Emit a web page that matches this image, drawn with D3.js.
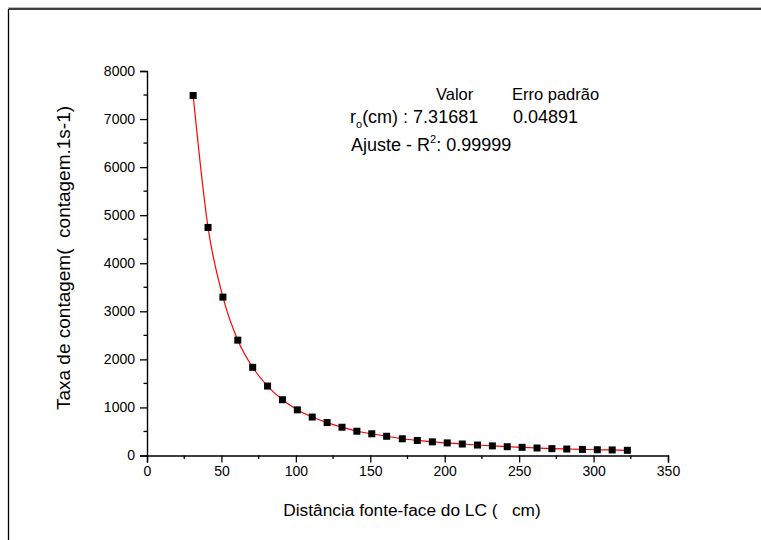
<!DOCTYPE html>
<html>
<head>
<meta charset="utf-8">
<script src="https://cdn.jsdelivr.net/npm/d3@7/dist/d3.min.js"></script>
<style>
  html, body { margin: 0; padding: 0; background: #fff; }
  svg { display: block; font-family: "Liberation Sans", Arial, sans-serif; }
  text { white-space: pre; }
</style>
</head>
<body>
<svg id="chart" width="761" height="540"></svg>
<script>
// ---- data ----
const distances = [31, 41, 51, 61, 71, 81, 91, 101, 111, 121, 131, 141, 151, 161, 171.5,
  181.6, 191.7, 201.7, 211.8, 222, 232, 242, 252, 262, 272, 282, 292.5, 302.5, 312.5, 322.7];
const rates = [7490, 4745, 3295, 2400, 1835, 1445, 1160, 950, 800, 685, 588, 505, 452, 400, 348,
  313, 284, 262, 239, 218, 200, 183, 170, 156, 143, 135, 127, 120, 116, 108];
const xTicks = [0, 50, 100, 150, 200, 250, 300, 350];
const yTicks = [0, 1000, 2000, 3000, 4000, 5000, 6000, 7000, 8000];
const xLabel = "Distância fonte-face do LC (   cm)";
const yLabel = "Taxa de contagem(  contagem.1s-1)";
const fitParam = { name: "r", sub: "o", unit: "(cm) : ", value: "7.31681", err: "0.04891" };
const fitR2 = "0.99999";

const svg = d3.select("#chart");

// frame
svg.append("line").attr("x1", 8).attr("x2", 761).attr("y1", 7.5).attr("y2", 7.5)
  .attr("stroke", "#bbb").attr("stroke-width", 1);
svg.append("line").attr("x1", 8.5).attr("x2", 761).attr("y1", 9).attr("y2", 9)
  .attr("stroke", "#000").attr("stroke-width", 1.3);
svg.append("line").attr("x1", 8.5).attr("x2", 8.5).attr("y1", 9).attr("y2", 540)
  .attr("stroke", "#000").attr("stroke-width", 1.3);

const x = d3.scaleLinear().domain([0, 350]).range([147, 668]);
const y = d3.scaleLinear().domain([0, 8000]).range([455.5, 71]);

// minor ticks
const xMinor = d3.range(25, 350, 50);
const yMinor = d3.range(500, 8000, 1000);

const gx = svg.append("g").attr("transform", `translate(0,${y(0)})`);
gx.call(d3.axisBottom(x).tickValues(xTicks).tickSize(7).tickPadding(4).tickFormat(d3.format("d")));
gx.select(".domain").attr("stroke-width", 1.4);
gx.selectAll(".tick line").attr("stroke-width", 1.3);
gx.selectAll("text").attr("font-size", 14).attr("fill", "#000")
  .attr("font-family", "Liberation Sans, Arial, sans-serif");
gx.selectAll(".minor").data(xMinor).enter().append("line")
  .attr("x1", d => x(d)).attr("x2", d => x(d)).attr("y1", 0).attr("y2", 3.5)
  .attr("stroke", "#000").attr("stroke-width", 1.3);

const gy = svg.append("g").attr("transform", `translate(${x(0)},0)`);
gy.call(d3.axisLeft(y).tickValues(yTicks).tickSize(7).tickPadding(5).tickFormat(d3.format("d")));
gy.select(".domain").attr("stroke-width", 1.4);
gy.selectAll(".tick line").attr("stroke-width", 1.3);
gy.selectAll("text").attr("font-size", 14).attr("fill", "#000")
  .attr("font-family", "Liberation Sans, Arial, sans-serif");
gy.selectAll(".minor").data(yMinor).enter().append("line")
  .attr("x1", 0).attr("x2", -3.5).attr("y1", d => y(d)).attr("y2", d => y(d))
  .attr("stroke", "#000").attr("stroke-width", 1.3);

// fit line through the points
const pts = distances.map((d, i) => [d, rates[i]]);
const line = d3.line().x(d => x(d[0])).y(d => y(d[1])).curve(d3.curveMonotoneX);
svg.append("path").datum(pts).attr("d", line)
  .attr("fill", "none").attr("stroke", "#ff0000").attr("stroke-width", 1.2);

// markers
svg.selectAll(".pt").data(pts).enter().append("rect")
  .attr("x", d => x(d[0]) - 3.5).attr("y", d => y(d[1]) - 3.5)
  .attr("width", 7).attr("height", 7).attr("fill", "#000");

// axis titles
svg.append("text").attr("x", 412).attr("y", 516).attr("text-anchor", "middle")
  .attr("font-size", 17.3).text(xLabel);
svg.append("text").attr("transform", `translate(70,258) rotate(-90)`)
  .attr("text-anchor", "middle").attr("font-size", 19).text(yLabel);

// annotation
svg.append("text").attr("x", 436).attr("y", 100).attr("font-size", 16.5).text("Valor");
svg.append("text").attr("x", 512).attr("y", 100).attr("font-size", 16.5).text("Erro padrão");
const fs = 18;
const t1 = svg.append("text").attr("x", 350).attr("y", 123).attr("font-size", fs);
t1.append("tspan").text(fitParam.name);
t1.append("tspan").attr("font-size", 11).attr("dy", 5).text(fitParam.sub);
t1.append("tspan").attr("dy", -5).text(fitParam.unit + fitParam.value);
svg.append("text").attr("x", 513).attr("y", 123).attr("font-size", fs).text(fitParam.err);
const t2 = svg.append("text").attr("x", 351).attr("y", 151).attr("font-size", fs);
t2.append("tspan").text("Ajuste - R");
t2.append("tspan").attr("font-size", 11).attr("dy", -8).text("2");
t2.append("tspan").attr("dy", 8).text(": " + fitR2);
</script>
</body>
</html>
